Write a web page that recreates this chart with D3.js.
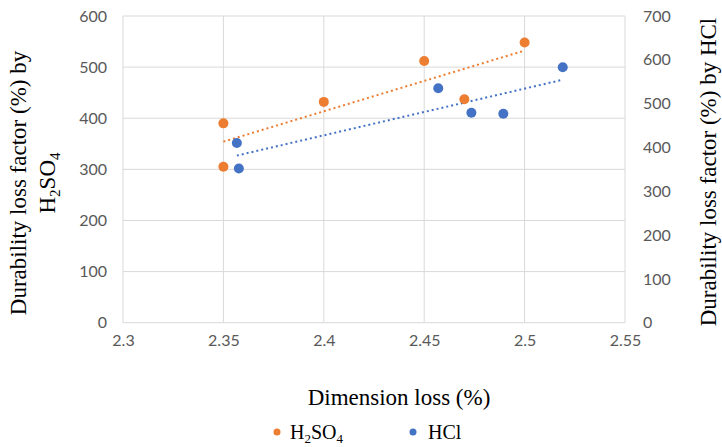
<!DOCTYPE html>
<html>
<head>
<meta charset="utf-8">
<script src="https://cdn.jsdelivr.net/npm/d3@7"></script>
<style>
  body { margin: 0; background: #fff; }
  svg { display: block; }
</style>
</head>
<body>
<div id="chart"></div>
<script>
// values
const h2so4X = [2.35, 2.35, 2.4, 2.45, 2.47, 2.5];
const h2so4Y = [390, 305, 432, 512, 437, 548];
const hclX = [2.3567, 2.3577, 2.457, 2.4735, 2.4894, 2.519];
const hclY = [410, 352, 535, 479, 477, 583];
const xTicks = [2.3, 2.35, 2.4, 2.45, 2.5, 2.55];
const leftTicks = [0, 100, 200, 300, 400, 500, 600];
const rightTicks = [0, 100, 200, 300, 400, 500, 600, 700];

const width = 722, height = 447;
const orange = "#ED7D31", blue = "#4472C4";
const tickFont = "Lato, 'Noto Sans', sans-serif";
const titleFont = "'Liberation Serif', 'DejaVu Serif', serif";

const svg = d3.select("#chart").append("svg")
  .attr("width", width).attr("height", height);

const x = d3.scaleLinear().domain([2.3, 2.55]).range([123, 625]);
const yL = d3.scaleLinear().domain([0, 600]).range([322.7, 16]);
const yR = d3.scaleLinear().domain([0, 700]).range([322.7, 16]);

// gridlines
svg.append("g").selectAll("line").data(leftTicks).join("line")
  .attr("x1", x.range()[0]).attr("x2", x.range()[1])
  .attr("y1", d => yL(d)).attr("y2", d => yL(d))
  .attr("stroke", "#d9d9d9").attr("stroke-width", 1);
svg.append("g").selectAll("line").data(xTicks).join("line")
  .attr("x1", d => x(d)).attr("x2", d => x(d))
  .attr("y1", yL.range()[0]).attr("y2", yL.range()[1])
  .attr("stroke", "#d9d9d9").attr("stroke-width", 1);

// axes (labels only)
const ax = svg.append("g").attr("transform", "translate(0," + yL(0) + ")")
  .call(d3.axisBottom(x).tickValues(xTicks).tickSize(0).tickPadding(12).tickFormat(d3.format("")));
const al = svg.append("g").attr("transform", "translate(" + x(2.3) + ",0)")
  .call(d3.axisLeft(yL).tickValues(leftTicks).tickSize(0).tickPadding(16));
const ar = svg.append("g").attr("transform", "translate(" + x(2.55) + ",0)")
  .call(d3.axisRight(yR).tickValues(rightTicks).tickSize(0).tickPadding(18));
[ax, al, ar].forEach(g => {
  g.select(".domain").remove();
  g.selectAll("text").attr("font-family", tickFont).attr("font-size", 16).attr("fill", "#595959");
});

// linear trend lines (least squares)
function fit(xs, ys) {
  const mx = d3.mean(xs), my = d3.mean(ys);
  let sxy = 0, sxx = 0;
  xs.forEach((v, i) => { sxy += (v - mx) * (ys[i] - my); sxx += (v - mx) * (v - mx); });
  const b = sxy / sxx, a = my - b * mx;
  const x0 = d3.min(xs), x1 = d3.max(xs);
  return [[x0, a + b * x0], [x1, a + b * x1]];
}
const line = (ys) => d3.line().x(d => x(d[0])).y(d => ys(d[1]));
svg.append("path").attr("d", line(yL)(fit(h2so4X, h2so4Y)))
  .attr("fill", "none").attr("stroke", orange).attr("stroke-width", 2)
  .attr("stroke-dasharray", "2,3");
svg.append("path").attr("d", line(yR)(fit(hclX, hclY)))
  .attr("fill", "none").attr("stroke", blue).attr("stroke-width", 2)
  .attr("stroke-dasharray", "2,3");

// points
svg.append("g").selectAll("circle").data(h2so4X.map((v, i) => [v, h2so4Y[i]])).join("circle")
  .attr("cx", d => x(d[0])).attr("cy", d => yL(d[1])).attr("r", 5).attr("fill", orange);
svg.append("g").selectAll("circle").data(hclX.map((v, i) => [v, hclY[i]])).join("circle")
  .attr("cx", d => x(d[0])).attr("cy", d => yR(d[1])).attr("r", 5).attr("fill", blue);

// axis titles
svg.append("text").attr("x", 399).attr("y", 405).attr("text-anchor", "middle")
  .attr("font-family", titleFont).attr("font-size", 23).attr("fill", "#000")
  .text("Dimension loss (%)");

const lt = svg.append("text").attr("transform", "translate(26,183) rotate(-90)")
  .attr("text-anchor", "middle").attr("font-family", titleFont).attr("font-size", 23).attr("fill", "#000");
lt.append("tspan").attr("x", 0).attr("y", 0).text("Durability loss factor (%) by");
const l2 = lt.append("tspan").attr("x", 0).attr("y", 29);
l2.append("tspan").text("H");
l2.append("tspan").attr("font-size", 15).attr("dy", 5).text("2");
l2.append("tspan").attr("dy", -5).text("SO");
l2.append("tspan").attr("font-size", 15).attr("dy", 5).text("4");

svg.append("text").attr("transform", "translate(716,172) rotate(-90)")
  .attr("text-anchor", "middle").attr("font-family", titleFont).attr("font-size", 23).attr("fill", "#000")
  .text("Durability loss factor (%) by HCl");

// legend
const leg = svg.append("g");
leg.append("circle").attr("cx", 277).attr("cy", 432).attr("r", 3.5).attr("fill", orange);
const lg1 = leg.append("text").attr("x", 290).attr("y", 439)
  .attr("font-family", titleFont).attr("font-size", 20).attr("fill", "#000");
lg1.append("tspan").text("H");
lg1.append("tspan").attr("font-size", 13).attr("dy", 4).text("2");
lg1.append("tspan").attr("dy", -4).text("SO");
lg1.append("tspan").attr("font-size", 13).attr("dy", 4).text("4");
leg.append("circle").attr("cx", 413).attr("cy", 432).attr("r", 3.5).attr("fill", blue);
leg.append("text").attr("x", 428).attr("y", 439)
  .attr("font-family", titleFont).attr("font-size", 20).attr("fill", "#000").text("HCl");
</script>
</body>
</html>
